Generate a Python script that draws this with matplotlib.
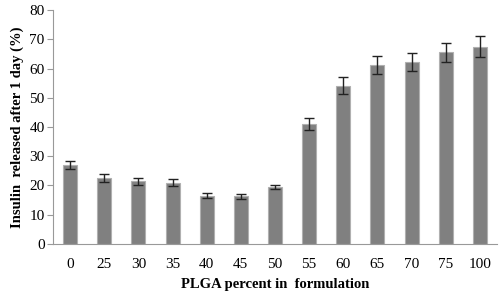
import numpy as np
import matplotlib.pyplot as plt

# PLGA content (%) and insulin released after 1 day (%)
plga = ['0', '25', '30', '35', '40', '45', '50', '55', '60', '65', '70', '75', '100']
released = [27.0, 22.5, 21.5, 21.0, 16.5, 16.3, 19.5, 41.0, 54.1, 61.3, 62.3, 65.5, 67.4]
errors = [1.4, 1.3, 1.2, 1.1, 0.8, 0.8, 0.8, 2.0, 2.9, 3.1, 3.1, 3.3, 3.6]

plt.rcParams['font.family'] = ['Liberation Serif', 'DejaVu Serif']

fig = plt.figure(figsize=(5.0, 2.95), dpi=100)
ax = fig.add_axes([0.106, 0.173, 0.888, 0.793])

x = np.arange(len(plga))
ax.bar(x, released, width=0.41, color='#808080', edgecolor='#b0b0b0', linewidth=0.8,
       yerr=errors, error_kw=dict(ecolor='#222222', elinewidth=1.0, capsize=3.5, capthick=1.0))

ax.set_xlim(-0.5, len(plga) - 0.5)
ax.set_ylim(0, 80)
ax.set_yticks(range(0, 81, 10))
ax.set_xticks(x)
ax.set_xticklabels(plga)
ax.tick_params(axis='y', length=4, color='#999999', labelsize=11, pad=2)
ax.tick_params(axis='x', length=0, labelsize=11, pad=10)

for side in ['top', 'right']:
    ax.spines[side].set_visible(False)
for side in ['left', 'bottom']:
    ax.spines[side].set_color('#999999')

ax.set_xlabel('PLGA percent in  formulation', fontweight='bold', fontsize=10.5, labelpad=5)
ax.set_ylabel('Insulin  released after 1 day (%)', fontweight='bold', fontsize=10.5, labelpad=4)

fig.savefig('out.png', dpi=100)
